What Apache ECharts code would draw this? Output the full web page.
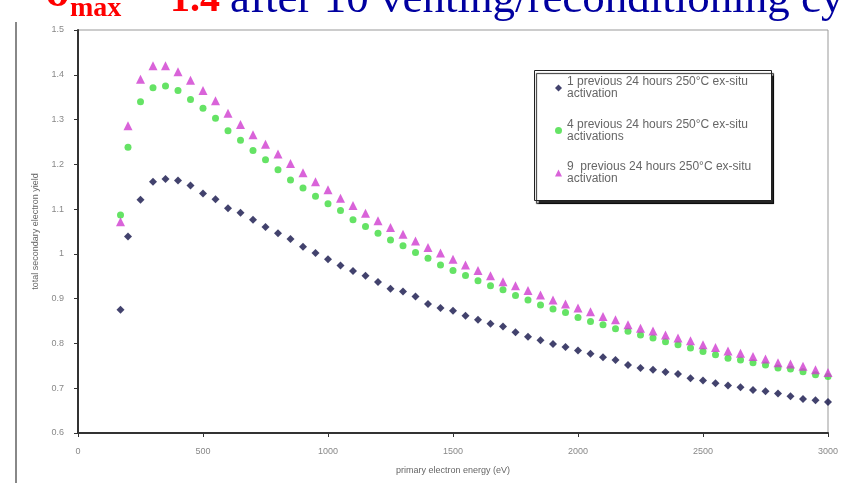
<!DOCTYPE html>
<html>
<head>
<meta charset="utf-8">
<script src="https://cdn.jsdelivr.net/npm/echarts@6/dist/echarts.min.js"></script>
<style>html,body{margin:0;padding:0;background:#fff;}#c{width:842px;height:483px;}</style>
</head>
<body>
<div id="c"></div>
<script>
const energies = [170,200,250,300,350,400,450,500,550,600,650,700,750,800,850,900,950,
  1000,1050,1100,1150,1200,1250,1300,1350,1400,1450,1500,1550,1600,1650,1700,1750,1800,1850,1900,1950,
  2000,2050,2100,2150,2200,2250,2300,2350,2400,2450,2500,2550,2600,2650,2700,2750,2800,2850,2900,2950,3000];

const yield1 = [0.875,1.039,1.121,1.161,1.167,1.164,1.153,1.135,1.122,1.102,1.092,1.076,1.060,1.046,1.033,1.016,1.002,
  0.988,0.974,0.962,0.951,0.937,0.922,0.916,0.905,0.888,0.879,0.873,0.862,0.853,0.844,0.838,0.825,0.815,0.807,0.799,0.792,
  0.784,0.777,0.769,0.763,0.752,0.745,0.741,0.736,0.732,0.722,0.717,0.711,0.706,0.702,0.696,0.693,0.688,0.682,0.676,0.673,0.669];

const yield4 = [1.087,1.238,1.340,1.371,1.375,1.365,1.345,1.325,1.303,1.275,1.254,1.231,1.210,1.188,1.165,1.147,1.129,
  1.112,1.097,1.076,1.061,1.046,1.031,1.018,1.003,0.990,0.975,0.963,0.952,0.940,0.929,0.920,0.907,0.897,0.886,0.877,0.869,
  0.858,0.849,0.842,0.833,0.827,0.819,0.812,0.804,0.797,0.790,0.782,0.775,0.767,0.763,0.757,0.752,0.745,0.743,0.737,0.730,0.726];

const yield9 = [1.072,1.286,1.390,1.420,1.420,1.407,1.388,1.365,1.342,1.314,1.289,1.266,1.245,1.223,1.202,1.181,1.161,
  1.143,1.124,1.108,1.091,1.074,1.059,1.044,1.029,1.014,1.002,0.988,0.975,0.963,0.951,0.938,0.929,0.918,0.908,0.897,0.888,
  0.879,0.871,0.860,0.853,0.842,0.834,0.828,0.819,0.812,0.806,0.797,0.791,0.783,0.778,0.771,0.765,0.757,0.754,0.749,0.741,0.735];

const seriesNames = [
  '1 previous 24 hours 250°C ex-situ\nactivation',
  '4 previous 24 hours 250°C ex-situ\nactivations',
  '9  previous 24 hours 250°C ex-situ\nactivation'
];

const pair = (ys) => energies.map((e, i) => [e, ys[i]]);

const chart = echarts.init(document.getElementById('c'));
chart.setOption({
  animation: false,
  backgroundColor: '#fff',
  grid: { left: 78, right: 14, top: 30, bottom: 50, show: true, borderColor: '#999', borderWidth: 1 },
  xAxis: {
    type: 'value', min: 0, max: 3000, interval: 500,
    name: 'primary electron energy (eV)', nameLocation: 'middle', nameGap: 33,
    nameTextStyle: { fontFamily: 'Liberation Sans', fontSize: 9, color: '#666' },
    axisLine: { lineStyle: { color: '#333', width: 2 } },
    axisTick: { length: 4, lineStyle: { color: '#333' } },
    axisLabel: { fontFamily: 'Liberation Sans', fontSize: 9, color: '#888', margin: 14,
      formatter: v => String(v) },
    splitLine: { show: false }
  },
  yAxis: {
    type: 'value', min: 0.6, max: 1.5, interval: 0.1,
    name: 'total secondary electron yield', nameLocation: 'middle', nameGap: 38,
    nameTextStyle: { fontFamily: 'Liberation Sans', fontSize: 9, color: '#666' },
    axisLine: { show: true, lineStyle: { color: '#333', width: 2 } },
    axisTick: { show: true, length: 4, lineStyle: { color: '#333' } },
    axisLabel: { fontFamily: 'Liberation Sans', fontSize: 9, color: '#888', margin: 14,
      formatter: v => (Math.round(v * 10) / 10).toString() },
    splitLine: { show: false }
  },
  legend: {
    orient: 'vertical', left: 555, top: 70,
    padding: 0,
    itemWidth: 7, itemHeight: 7, itemGap: 6.5,
    textStyle: { fontFamily: 'Liberation Sans', fontSize: 12, color: '#666', lineHeight: 12, padding: [12, 0, 0, 0] },
    data: seriesNames
  },
  series: [
    { name: seriesNames[0], type: 'scatter', data: pair(yield1), symbol: 'diamond', symbolSize: 8,
      itemStyle: { color: '#131348' } },
    { name: seriesNames[1], type: 'scatter', data: pair(yield4), symbol: 'circle', symbolSize: 7,
      itemStyle: { color: '#3fdc3f' } },
    { name: seriesNames[2], type: 'scatter', data: pair(yield9), symbol: 'triangle', symbolSize: 9,
      itemStyle: { color: '#cf3ccf' } }
  ],
  graphic: [
    { type: 'rect', left: 534, top: 70, z: 0, shape: { width: 237, height: 130 },
      style: { fill: '#fff', stroke: '#222', lineWidth: 1, shadowColor: 'rgba(0,0,0,0.85)', shadowBlur: 1, shadowOffsetX: 2, shadowOffsetY: 3 } },
    { type: 'line', shape: { x1: 16, y1: 22, x2: 16, y2: 483 }, style: { stroke: '#888', lineWidth: 2 } },
    { type: 'text', left: 46, top: -28, style: { text: 'δ', font: 'bold 45px "Liberation Serif"', fill: '#ff0000' } },
    { type: 'text', left: 70, top: -5, style: { text: 'max', font: 'bold 28px "Liberation Serif"', fill: '#ff0000' } },
    { type: 'text', left: 170, top: -19, style: { text: '1.4', font: 'bold 40px "Liberation Serif"', fill: '#ff0000' } },
    { type: 'text', left: 230, top: -22, style: { text: 'after 10 venting/reconditioning cycles', font: '45px "Liberation Serif"', fill: '#0000a0' } }
  ]
});
</script>
</body>
</html>
